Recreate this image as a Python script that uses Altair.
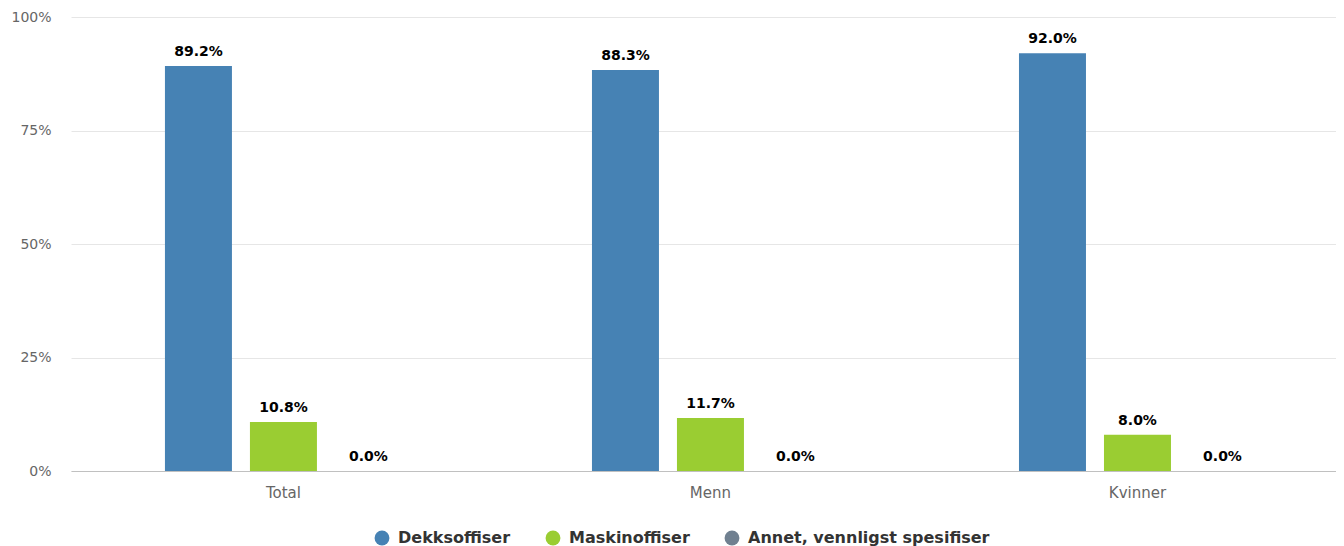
import altair as alt
import pandas as pd

categories = ["Total", "Menn", "Kvinner"]
series = ["Dekksoffiser", "Maskinoffiser", "Annet, vennligst spesifiser"]
dekk = [89.2, 88.3, 92.0]
maskin = [10.8, 11.7, 8.0]
annet = [0.0, 0.0, 0.0]
colors = ["#4682b4", "#9acd32", "#708090"]

rows = []
for vals, s in zip([dekk, maskin, annet], series):
    for c, v in zip(categories, vals):
        rows.append({"category": c, "series": s, "value": v, "label": f"{v:.1f}%"})
df = pd.DataFrame(rows)

FONT = "DejaVu Sans"

x = alt.X("category:N", sort=categories, title=None,
          scale=alt.Scale(paddingInner=0.445, paddingOuter=0.2037, align=0.54),
          axis=alt.Axis(labelAngle=0, labelFont=FONT, labelFontSize=15, labelColor="#666666",
                        labelPadding=14, ticks=False, domainColor="#c0c0c0", domainWidth=1, grid=False))
xo = alt.XOffset("series:N", sort=series, scale=alt.Scale(paddingInner=0.2118, paddingOuter=0))
y = alt.Y("value:Q", title=None,
          scale=alt.Scale(domain=[0, 100], nice=False),
          axis=alt.Axis(values=[0, 25, 50, 75, 100], labelExpr="datum.value + '%'",
                        labelFont=FONT, labelFontSize=14, labelColor="#666666", labelPadding=20,
                        ticks=False, domain=False, gridColor="#e6e6e6", gridWidth=1))

color = alt.Color("series:N", sort=series, title=None,
                  scale=alt.Scale(domain=series, range=colors),
                  legend=alt.Legend(orient="none", direction="horizontal", legendX=303, legendY=513,
                                    symbolType="circle", symbolSize=220, symbolStrokeWidth=0,
                                    labelFont=FONT, labelFontSize=16, labelFontWeight="bold",
                                    labelColor="#333333", columnPadding=34, labelOffset=8,
                                    symbolOffset=0, labelLimit=400))

bars = alt.Chart(df).mark_bar().encode(x=x, xOffset=xo, y=y, color=color)
text = alt.Chart(df).mark_text(baseline="bottom", dy=-7, font=FONT, fontSize=14,
                               fontWeight="bold", color="#000000").encode(
    x=alt.X("category:N", sort=categories), xOffset=alt.XOffset("series:N", sort=series),
    y="value:Q", text="label:N")

chart = alt.layer(bars, text).properties(
    width=1265, height=454,
    autosize=alt.AutoSizeParams(type="none"),
    padding={"left": 63, "top": 9, "right": 0, "bottom": 75},
).configure_view(stroke=None)

chart.save("out.html", embed_options={"renderer": "svg", "actions": False})
